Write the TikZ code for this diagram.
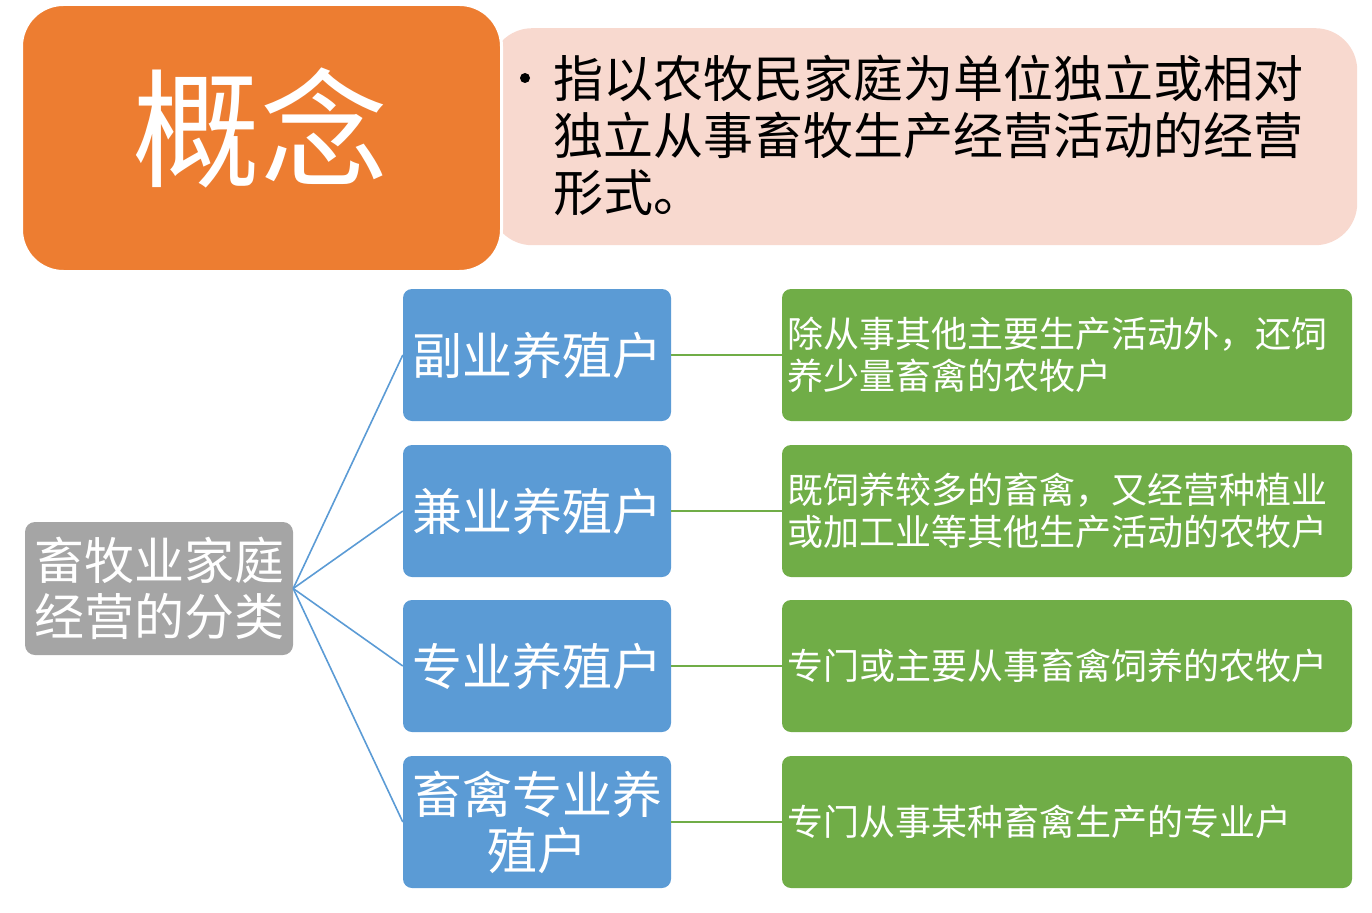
\documentclass[tikz,border=0pt]{standalone}
\usepackage{fontspec}
\setmainfont{Noto Sans CJK SC}
\definecolor{cOrange}{HTML}{ED7D31}
\definecolor{cPink}{HTML}{F8D9CF}
\definecolor{cGray}{HTML}{A5A5A5}
\definecolor{cBlue}{HTML}{5B9BD5}
\definecolor{cGreen}{HTML}{70AD47}
\begin{document}
\begin{tikzpicture}[x=1pt,y=-1pt,
  catbox/.style={fill=cBlue,draw=none,rounded corners=9pt,minimum width=268pt,minimum height=132pt,inner sep=0pt,text=white,align=center,font=\fontsize{50}{56}\selectfont},
  descbox/.style={fill=cGreen,draw=none,rounded corners=9pt,minimum width=570pt,minimum height=132pt,inner xsep=5pt,inner ysep=0pt,text width=560pt,text=white,align=left,font=\fontsize{36}{42}\selectfont},
  blueline/.style={draw=cBlue,line width=1.6pt},
  greenline/.style={draw=cGreen,line width=1.6pt}]
\useasboundingbox (0,0) rectangle (1372,912);
% concept header
\node[fill=cPink,draw=none,rounded corners=42pt,minimum width=867pt,minimum height=217pt,inner sep=0pt,anchor=north west] (def) at (490,28) {};
\node[fill=cOrange,draw=white,line width=3pt,rounded corners=42pt,minimum width=480pt,minimum height=267pt,inner sep=0pt,anchor=north west] (concept) at (20,3) {};
\node[text=white,font=\fontsize{128}{134}\selectfont,inner sep=0pt] (concepttext) at (260,128) {概念};
\node[circle,fill=black,minimum size=10pt,inner sep=0pt] (bullet) at (525,78) {};
\node[font=\fontsize{50}{57}\selectfont,inner sep=0pt,anchor=west,align=left] (deftext) at (553,135) {指以农牧民家庭为单位独立或相对\\独立从事畜牧生产经营活动的经营\\形式。};
% root
\node[fill=cGray,draw=none,rounded corners=10pt,minimum width=268pt,minimum height=133pt,inner sep=0pt,text=white,align=center,font=\fontsize{50}{56}\selectfont] (root) at (159,588.5) {畜牧业家庭\\经营的分类};
% categories
\node[catbox] (c1) at (537,355) {副业养殖户};
\node[catbox] (c2) at (537,511) {兼业养殖户};
\node[catbox] (c3) at (537,666) {专业养殖户};
\node[catbox] (c4) at (537,822) {畜禽专业养\\殖户};
% descriptions
\node[descbox] (d1) at (1067,355) {除从事其他主要生产活动外，还饲\\养少量畜禽的农牧户};
\node[descbox] (d2) at (1067,511) {既饲养较多的畜禽，又经营种植业\\或加工业等其他生产活动的农牧户};
\node[descbox] (d3) at (1067,666) {专门或主要从事畜禽饲养的农牧户};
\node[descbox] (d4) at (1067,822) {专门从事某种畜禽生产的专业户};
% connectors
\foreach \i in {1,2,3,4}{
  \draw[blueline] (root.east) -- (c\i.west);
  \draw[greenline] (c\i.east) -- (d\i.west);
}
\end{tikzpicture}
\end{document}
